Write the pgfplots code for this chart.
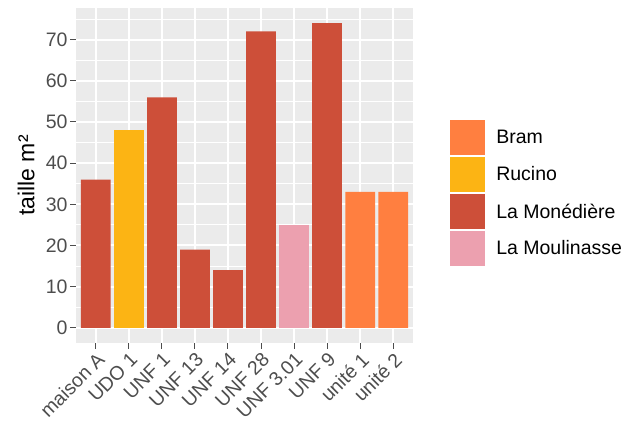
\documentclass[border=0pt]{standalone}
\usepackage{pgfplots}
\pgfplotsset{compat=1.18}
\usepackage{fontspec}
\setmainfont{Liberation Sans}

\definecolor{panelbg}{RGB}{235,235,235}
\definecolor{tickgrey}{RGB}{77,77,77}
\definecolor{cBram}{RGB}{255,127,64}
\definecolor{cRucino}{RGB}{252,180,20}
\definecolor{cMonediere}{RGB}{205,79,57}
\definecolor{cMoulinasse}{RGB}{236,160,175}

\begin{document}
\begin{tikzpicture}
  \path[use as bounding box] (-76pt,-91pt) rectangle (556pt,343pt);
  \begin{axis}[
    at={(0,0)}, anchor=south west,
    scale only axis,
    width=337pt, height=335pt,
    ybar, bar width=0.9, bar shift=0pt,
    xmin=-0.6, xmax=9.6,
    ymin=-3.7, ymax=77.7,
    xtick={0,...,9},
    xticklabels={maison A, UDO 1, UNF 1, UNF 13, UNF 14, UNF 28, UNF 3.01, UNF 9, unité 1, unité 2},
    ytick={0,10,...,70},
    minor ytick={5,15,...,75},
    grid=both,
    major grid style={white, line width=2pt},
    minor grid style={white, line width=1pt},
    axis background/.style={fill=panelbg},
    axis line style={draw=none},
    tick pos=left,
    tick align=outside,
    major tick length=5.8pt,
    minor tick length=0pt,
    tick style={tickgrey, line width=1pt},
    ticklabel style={font=\fontsize{19.5}{21}\selectfont, text=tickgrey},
    /pgf/number format/assume math mode=true,
    yticklabel style={inner sep=2.5pt},
    xticklabel style={rotate=45, anchor=north east, inner sep=1.5pt},
    ylabel={taille m²},
    ylabel style={font=\fontsize{23}{25}\selectfont, at={(rel axis cs:-0.148,0.5)}, anchor=center},
    legend cell align=left,
    legend style={draw=none, fill=none, at={(1.11,0.666)}, anchor=north west,
      font=\fontsize{19.5}{21}\selectfont, inner sep=0pt,
      /tikz/every odd column/.append style={column sep=9pt},
      row sep=2pt},
    legend image code/.code={\fill[#1] (0pt,-17.5pt) rectangle (35pt,17.5pt);},
  ]
    \addplot[fill=cBram, draw=none] coordinates {(8,33) (9,33)};
    \addplot[fill=cRucino, draw=none] coordinates {(1,48)};
    \addplot[fill=cMonediere, draw=none] coordinates {(0,36) (2,56) (3,19) (4,14) (5,72) (7,74)};
    \addplot[fill=cMoulinasse, draw=none] coordinates {(6,25)};
    \legend{Bram, Rucino, La Monédière, La Moulinasse}
  \end{axis}
\end{tikzpicture}
\end{document}
